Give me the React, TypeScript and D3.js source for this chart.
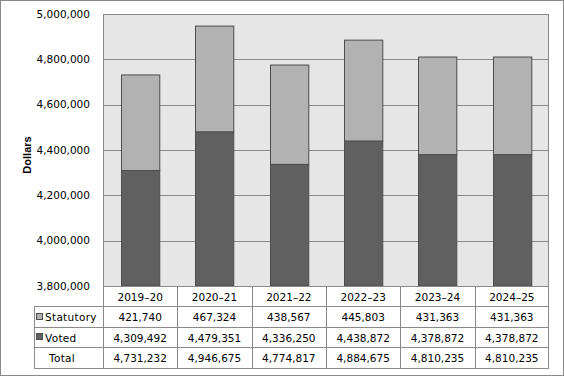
import React from "react";
import * as d3 from "d3";

const years = ["2019–20", "2020–21", "2021–22", "2022–23", "2023–24", "2024–25"];
const statutory = [421740, 467324, 438567, 445803, 431363, 431363];
const voted = [4309492, 4479351, 4336250, 4438872, 4378872, 4378872];
const totals = [4731232, 4946675, 4774817, 4884675, 4810235, 4810235];
const yTicks = [3800000, 4000000, 4200000, 4400000, 4600000, 4800000, 5000000];
const rowLabels = ["Statutory", "Voted", "Total"];

const W = 564, H = 376;
const plotL = 103, plotR = 549, plotT = 14, plotB = 286;
const tableL = 34;
const rowH = [286, 306, 327, 347, 368];
const FONT = "'DejaVu Sans', Verdana, sans-serif";
const C_STAT = "#b2b2b2", C_VOTED = "#606060", C_STROKE = "#4d4d4d", C_GRID = "#8a8a8a";

export default function App() {
  const y = d3.scaleLinear().domain([3800000, 5000000]).range([plotB, plotT]);
  const x = d3.scaleBand().domain(years).range([plotL, plotR]).padding(0);
  const bw = x.bandwidth() * 0.515;
  const fmt = d3.format(",");
  const rows = [statutory, voted, totals];
  const clipBottom = y(3800000);
  return (
    <svg width={W} height={H} style={{ position: "fixed", left: 0, top: 0, background: "#fff" }}>
      <rect x={0.5} y={0.5} width={W - 1} height={H - 1} fill="#fff" stroke={C_GRID} />
      <rect x={plotL} y={plotT} width={plotR - plotL} height={plotB - plotT} fill="#e6e6e6" />
      {yTicks.map((t) => (
        <g key={t}>
          <line x1={plotL} x2={plotR} y1={Math.round(y(t)) + 0.5} y2={Math.round(y(t)) + 0.5} stroke={C_GRID} />
          <text x={90} y={y(t)} dy="0.35em" textAnchor="end" fontFamily={FONT} fontSize={10.5} fill="#000">
            {fmt(t)}
          </text>
        </g>
      ))}
      <line x1={plotL + 0.5} x2={plotL + 0.5} y1={plotT} y2={plotB} stroke={C_GRID} />
      <line x1={plotR - 0.5} x2={plotR - 0.5} y1={plotT} y2={plotB} stroke={C_GRID} />
      {years.map((yr, i) => {
        const cx = (x(yr) as number) + x.bandwidth() / 2;
        const x0 = Math.round(cx - bw / 2) + 0.5;
        const yv = y(voted[i]);
        const yt = y(voted[i] + statutory[i]);
        return (
          <g key={yr}>
            <rect x={x0} y={yt} width={bw} height={yv - yt} fill={C_STAT} stroke={C_STROKE} strokeWidth={1} />
            <rect x={x0} y={yv} width={bw} height={clipBottom - yv} fill={C_VOTED} stroke={C_STROKE} strokeWidth={1} />
          </g>
        );
      })}
      {/* table */}
      <rect x={plotL + 0.5} y={rowH[0] + 0.5} width={plotR - plotL - 1} height={rowH[1] - rowH[0]} fill="#fff" stroke="none" />
      {rowH.map((ry, k) => (
        <line key={ry} x1={k === 0 ? plotL : tableL} x2={plotR} y1={ry + 0.5} y2={ry + 0.5} stroke={C_GRID} />
      ))}
      <line x1={tableL + 0.5} x2={tableL + 0.5} y1={rowH[1]} y2={rowH[4]} stroke={C_GRID} />
      {years.map((yr) => (
        <line key={"v" + yr} x1={Math.round(x(yr) as number) + 0.5} x2={Math.round(x(yr) as number) + 0.5} y1={rowH[0]} y2={rowH[4] + 1} stroke={C_GRID} />
      ))}
      <line x1={plotR - 0.5} x2={plotR - 0.5} y1={rowH[0]} y2={rowH[4] + 1} stroke={C_GRID} />
      {years.map((yr) => (
        <text key={"h" + yr} x={(x(yr) as number) + x.bandwidth() / 2} y={(rowH[0] + rowH[1]) / 2 + 1} dy="0.35em" textAnchor="middle" fontFamily={FONT} fontSize={10.5}>
          {yr}
        </text>
      ))}
      {rows.map((vals, r) =>
        vals.map((v, i) => (
          <text key={r + "-" + i} x={(x(years[i]) as number) + x.bandwidth() / 2} y={(rowH[r + 1] + rowH[r + 2]) / 2 + 1} dy="0.35em" textAnchor="middle" fontFamily={FONT} fontSize={10.5}>
            {fmt(v)}
          </text>
        ))
      )}
      {rowLabels.map((lab, r) => {
        const cy = (rowH[r + 1] + rowH[r + 2]) / 2 + 1;
        const sw = r === 0 ? C_STAT : r === 1 ? C_VOTED : null;
        return (
          <g key={lab}>
            {sw && <rect x={36.5} y={Math.round(cy) - 4.5} width={6} height={6} fill={sw} stroke={C_STROKE} />}
            <text x={sw ? 45 : 49} y={cy} dy="0.35em" fontFamily={FONT} fontSize={10.5} letterSpacing={0.3}>
              {lab}
            </text>
          </g>
        );
      })}
      <text transform={`translate(31,155) rotate(-90)`} textAnchor="middle" fontFamily="'Liberation Sans', Arial, sans-serif" fontWeight="bold" fontSize={11}>
        Dollars
      </text>
    </svg>
  );
}
